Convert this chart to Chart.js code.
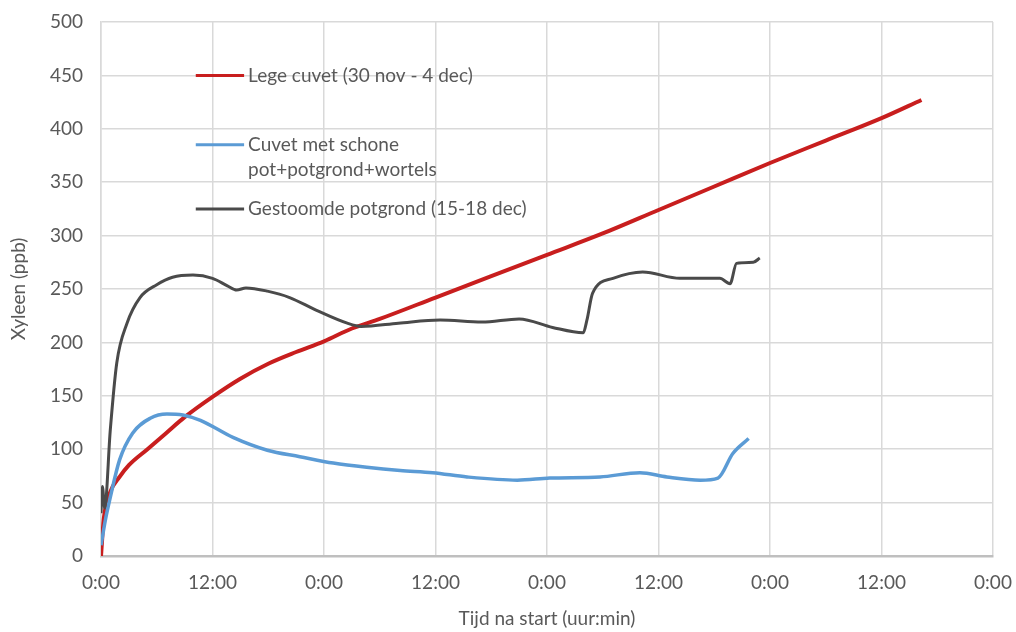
<!DOCTYPE html>
<html>
<head>
<meta charset="utf-8">
<script src="https://cdn.jsdelivr.net/npm/chart.js@4"></script>
<style>
  html, body { margin: 0; padding: 0; background: #ffffff; }
  #wrap { width: 1016px; height: 632px; }
</style>
</head>
<body>
<div id="wrap"><canvas id="chart" width="1016" height="632"></canvas></div>
<script>
// time in hours since start, xyleen in ppb
const redHours = [0, 0.3, 1, 2, 3, 5, 7, 9, 12, 15, 18, 21, 24, 27, 30, 36, 42, 48, 54, 60, 66, 72, 78, 84, 88.3];
const redValues = [0, 35, 60, 74, 85, 100, 115, 130, 149, 166, 180, 191, 201, 213, 222, 242, 262, 282, 302, 324, 346, 368, 389, 410, 427];

const blueHours = [0, 0.5, 1, 2, 3.4, 5.3, 7.1, 8.8, 10.7, 14.2, 17.9, 21.4, 25, 28.6, 32.2, 35.7, 39.4, 44.8, 48.3, 53.7, 58, 60.9, 64.5, 66.4, 68, 69.7];
const blueValues = [10, 35, 55, 90, 115, 129, 133, 132, 127, 111, 99, 93, 87, 83, 80, 78, 74, 71, 73, 74, 78, 74, 71, 73, 96, 110];

const blackHours = [0, 0.15, 0.4, 1, 1.7, 2.8, 4.2, 6, 7.7, 9.9, 12, 13.6, 14.6, 15.6, 17.9, 20.3, 23.2, 26.5, 28, 32, 36.5, 41, 45, 48.6, 51.9, 52.3, 52.9, 55.1, 58.3, 62.3, 66.6, 67.7, 68.4, 70.2, 70.9];
const blackValues = [40, 65, 45, 118, 181, 218, 242, 254, 261, 263, 260, 253, 249, 251, 248, 242, 230, 218, 215, 218, 221, 219, 222, 214, 209, 221, 246, 260, 266, 260, 260, 255, 274, 275, 279];

const seriesNames = [['Lege cuvet (30 nov - 4 dec)'], ['Cuvet met schone', 'pot+potgrond+wortels'], ['Gestoomde potgrond (15-18 dec)']];
const seriesColors = ['#c81e1e', '#5b9bd5', '#4a4a4a'];
const legendValues = [450, 385, 325]; // y level of each legend swatch

function toPoints(hours, values) {
    return hours.map(function(h, i) { return { x: h, y: values[i] }; });
}

const FONT = 'Lato, "Open Sans", sans-serif';
const TEXT = '#595959';

// legend drawn inside the plot, like the original
const insideLegend = {
    id: 'insideLegend',
    afterDatasetsDraw(chart) {
        const ctx = chart.ctx;
        const xs = chart.scales.x;
        const ys = chart.scales.y;
        const x0 = xs.getPixelForValue(10.2);
        const x1 = xs.getPixelForValue(15.4);
        ctx.save();
        ctx.font = '19px ' + FONT;
        ctx.fillStyle = TEXT;
        ctx.textBaseline = 'middle';
        seriesNames.forEach(function(lines, i) {
            const y = ys.getPixelForValue(legendValues[i]);
            ctx.strokeStyle = seriesColors[i];
            ctx.lineWidth = 3;
            ctx.beginPath();
            ctx.moveTo(x0, y);
            ctx.lineTo(x1, y);
            ctx.stroke();
            lines.forEach(function(t, j) {
                ctx.fillText(t, x1 + 4, y + j * 25);
            });
        });
        ctx.restore();
    }
};

const ctx = document.getElementById('chart').getContext('2d');
new Chart(ctx, {
    type: 'line',
    data: {
        datasets: [
            { label: seriesNames[0].join(' '), data: toPoints(redHours, redValues), borderColor: seriesColors[0], borderWidth: 4, order: 3 },
            { label: seriesNames[1].join(' '), data: toPoints(blueHours, blueValues), borderColor: seriesColors[1], borderWidth: 3.5, order: 2 },
            { label: seriesNames[2].join(' '), data: toPoints(blackHours, blackValues), borderColor: seriesColors[2], borderWidth: 3, order: 1 }
        ]
    },
    options: {
        responsive: false,
        animation: false,
        elements: {
            point: { radius: 0 },
            line: { cubicInterpolationMode: 'monotone', fill: false }
        },
        layout: { padding: { left: 0, right: 23, top: 22, bottom: 0 } },
        plugins: {
            legend: { display: false },
            tooltip: { enabled: false }
        },
        scales: {
            x: {
                type: 'linear',
                min: 0,
                max: 96,
                afterFit: function(s) {
                    s.height = 76;
                    s.paddingLeft = 0;
                    s.paddingRight = 0;
                },
                ticks: {
                    stepSize: 12,
                    padding: 15,
                    color: TEXT,
                    font: { family: FONT, size: 19 },
                    callback: function(v) { return v % 24 === 0 ? '0:00' : '12:00'; }
                },
                grid: { color: '#d9d9d9', lineWidth: 1.5, drawTicks: false },
                border: { color: '#bfbfbf', width: 2.5 },
                title: {
                    display: true,
                    text: 'Tijd na start (uur:min)',
                    color: TEXT,
                    font: { family: FONT, size: 19 },
                    padding: { top: 0, bottom: 2 }
                }
            },
            y: {
                min: 0,
                max: 500,
                afterFit: function(s) {
                    s.width = 101;
                    s.paddingTop = 0;
                    s.paddingBottom = 0;
                },
                ticks: {
                    stepSize: 50,
                    padding: 18,
                    color: TEXT,
                    font: { family: FONT, size: 19 }
                },
                grid: { color: '#d9d9d9', lineWidth: 1.5, drawTicks: false },
                border: { color: '#d9d9d9', width: 1.5 },
                title: {
                    display: true,
                    text: 'Xyleen (ppb)',
                    color: TEXT,
                    font: { family: FONT, size: 19 },
                    padding: { top: 7, bottom: 0 }
                }
            }
        }
    },
    plugins: [insideLegend]
});
</script>
</body>
</html>
